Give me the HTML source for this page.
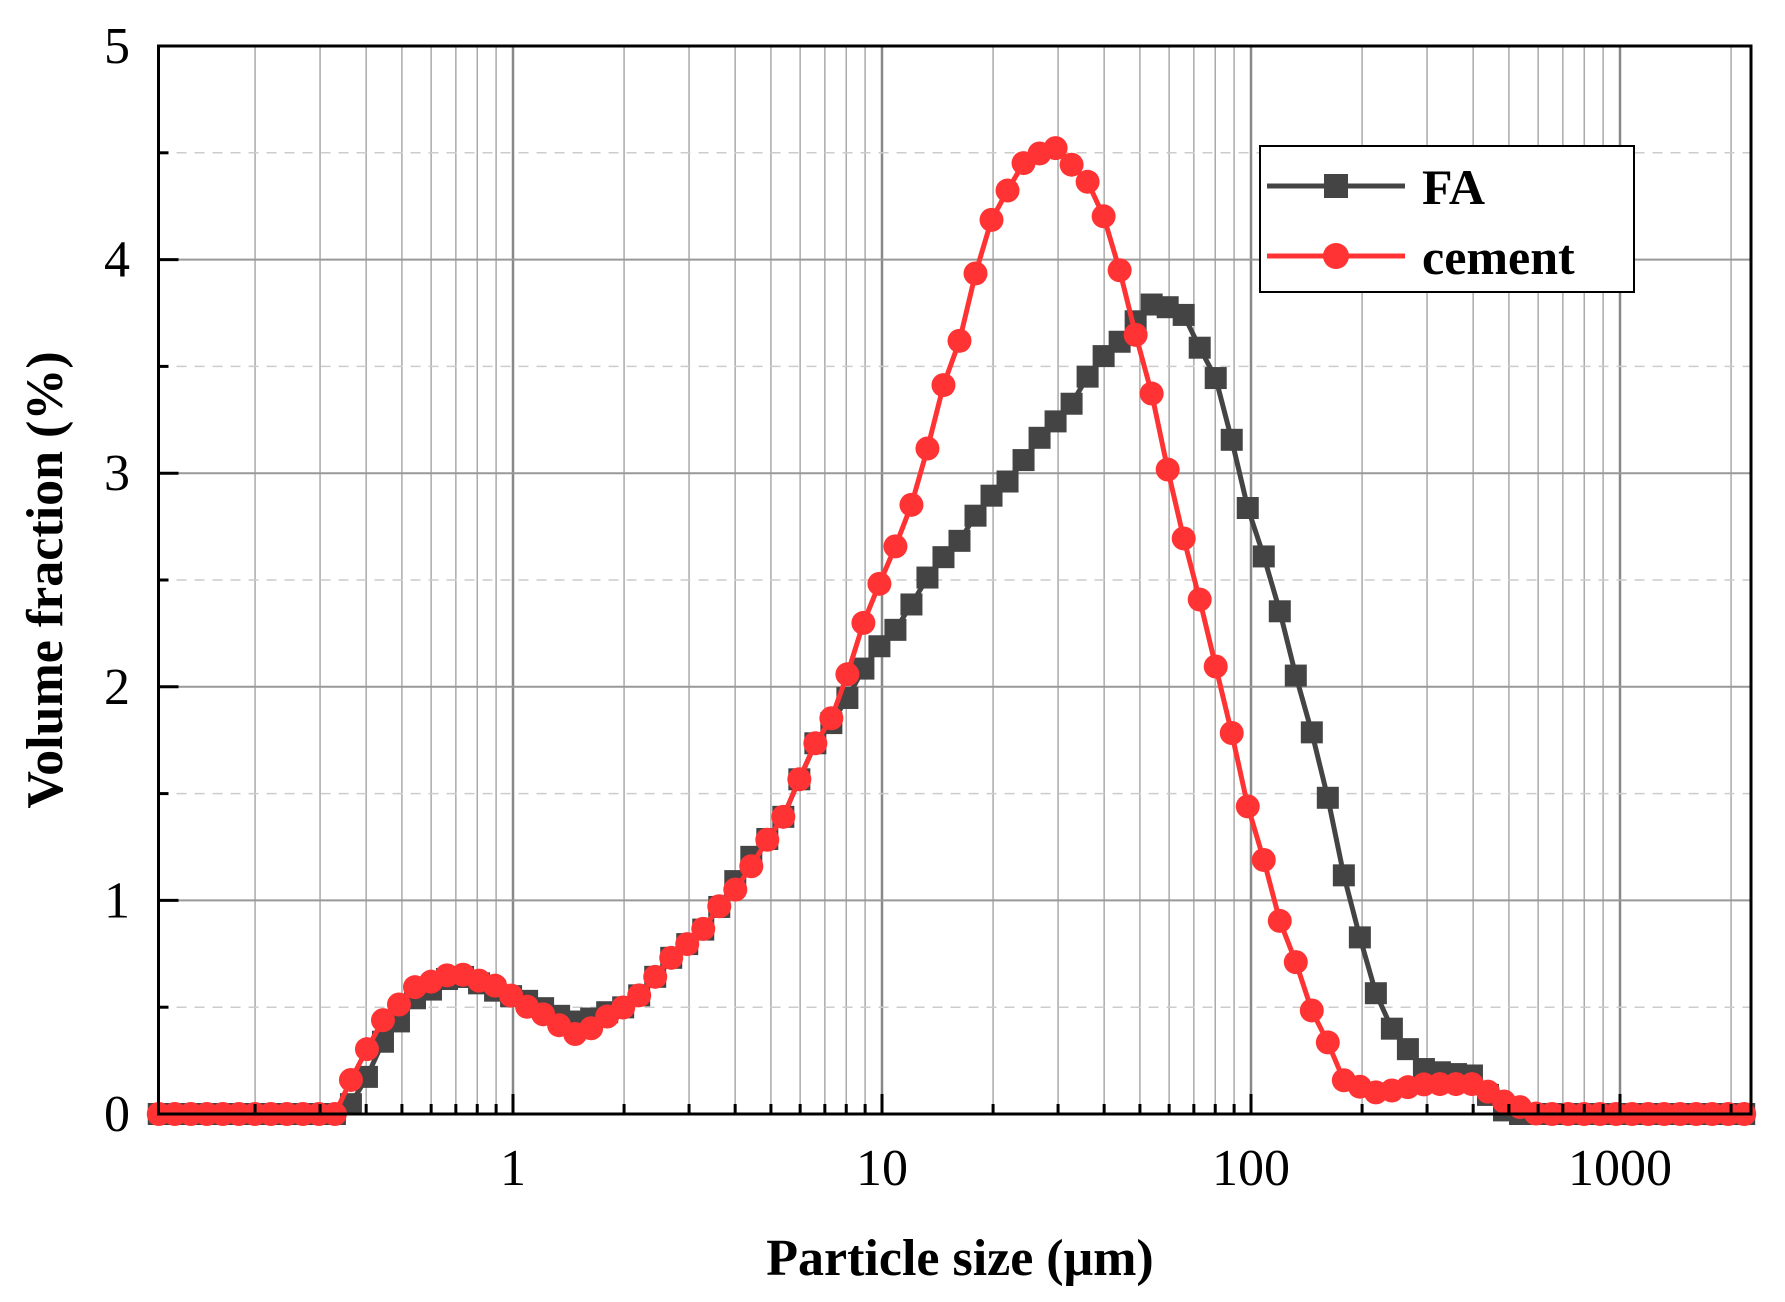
<!DOCTYPE html>
<html><head><meta charset="utf-8"><style>
html,body{margin:0;padding:0;background:#fff;}
svg{display:block;font-family:"Liberation Serif",serif;}
</style></head><body>
<svg id="s" width="1785" height="1302" viewBox="0 0 1785 1302" xmlns="http://www.w3.org/2000/svg">
<rect width="1785" height="1302" fill="#fff"/>
<g id="grid"></g>
<g id="series"></g>
<rect x="158.5" y="46" width="1592.5" height="1068" fill="none" stroke="#000" stroke-width="3"/>
<g id="ticks"></g>
<g font-size="52" fill="#000" id="labels"></g>
<text x="960" y="1275" font-size="52" font-weight="bold" text-anchor="middle">Particle size (μm)</text>
<text transform="translate(62,580) rotate(-90)" font-size="52" font-weight="bold" text-anchor="middle">Volume fraction (%)</text>
<rect x="1260" y="146" width="374" height="146" fill="#fff" stroke="#000" stroke-width="2"/>
<line x1="1267" y1="186" x2="1405" y2="186" stroke="#444" stroke-width="5"/>
<rect x="1324" y="174" width="24" height="24" fill="#444"/>
<text x="1422" y="204" font-size="50" font-weight="bold">FA</text>
<line x1="1267" y1="256" x2="1405" y2="256" stroke="#f33" stroke-width="5"/>
<circle cx="1336" cy="256" r="13" fill="#f33"/>
<text x="1422" y="274" font-size="50" font-weight="bold">cement</text>
</svg>
<script>
const NS="http://www.w3.org/2000/svg";
const L=158.5,R=1751,T=46,B=1114;
const x1=513,dec=369;
const X=v=>x1+Math.log10(v)*dec, Y=v=>B-v*(B-T)/5;
function el(p,t,a){const e=document.createElementNS(NS,t);for(const k in a)e.setAttribute(k,a[k]);p.appendChild(e);return e;}
const g=document.getElementById('grid'),tk=document.getElementById('ticks'),lb=document.getElementById('labels');
for(let d=-1;d<=3;d++)for(let m=1;m<10;m++){const v=m*Math.pow(10,d);const x=X(v);if(x<=L+1||x>=R-1)continue;
 el(g,'line',{x1:x,x2:x,y1:T,y2:B,stroke:m==1?'#888':'#aaa','stroke-width':m==1?2.5:1.5});
 el(tk,'line',{x1:x,x2:x,y1:B,y2:B-(m==1?20:10),stroke:'#000','stroke-width':3});}
for(let i=1;i<10;i++){const y=Y(i*0.5);if(i%2==0){el(g,'line',{x1:L,x2:R,y1:y,y2:y,stroke:'#999','stroke-width':2});}
 else el(g,'line',{x1:L,x2:R,y1:y,y2:y,stroke:'#ccc','stroke-width':1.5,'stroke-dasharray':'10 8'});
 el(tk,'line',{x1:L,x2:L+(i%2==0?20:10),y1:y,y2:y,stroke:'#000','stroke-width':3});}
for(let i=0;i<=5;i++){const t=el(lb,'text',{x:130,y:Y(i)+17,'text-anchor':'end'});t.textContent=i;}
[[1,'1'],[10,'10'],[100,'100'],[1000,'1000']].forEach(([v,s])=>{const t=el(lb,'text',{x:X(v),y:1185,'text-anchor':'middle'});t.textContent=s;});
function interp(pts,v){const lv=Math.log10(v);if(lv<=Math.log10(pts[0][0]))return pts[0][1];
 for(let i=1;i<pts.length;i++){const a=Math.log10(pts[i-1][0]),b=Math.log10(pts[i][0]);if(lv<=b){const t=(lv-a)/(b-a);const s=t*t*(3-2*t);return pts[i-1][1]+(pts[i][1]-pts[i-1][1])*(0.5*t+0.5*s);}}
 return pts[pts.length-1][1];}
const cem=[[0.1,0],[0.33,0],[0.36,0.15],[0.4,0.3],[0.45,0.45],[0.55,0.6],[0.7,0.66],[0.9,0.6],[1.1,0.5],[1.5,0.37],[2,0.5],[3,0.8],[4,1.05],[5,1.3],[7,1.8],[10,2.5],[12,2.85],[15,3.45],[20,4.2],[24,4.45],[29,4.53],[35,4.4],[40,4.2],[50,3.6],[60,3.0],[70,2.5],[80,2.1],[100,1.4],[120,0.9],[150,0.45],[180,0.15],[220,0.1],[300,0.14],[400,0.14],[500,0.05],[600,0],[3000,0]];
const fa=[[0.1,0],[0.35,0],[0.38,0.1],[0.45,0.35],[0.55,0.55],[0.7,0.65],[1,0.55],[1.5,0.43],[2,0.5],[3,0.8],[5,1.3],[7,1.8],[10,2.2],[15,2.62],[20,2.9],[30,3.25],[40,3.55],[55,3.8],[65,3.75],[80,3.45],[100,2.8],[120,2.35],[140,1.9],[160,1.5],[180,1.1],[200,0.8],[220,0.55],[250,0.35],[300,0.2],[400,0.18],[460,0.05],[500,0],[3000,0]];
function draw(pts,col,sq){const sg=document.getElementById('series');let d='';const xs=[];
 for(let lv=-0.96;lv<=3.35;lv+=0.0434){xs.push(Math.pow(10,lv));}
 xs.forEach((v,i)=>{d+=(i?'L':'M')+X(v).toFixed(1)+','+Y(interp(pts,v)).toFixed(1);});
 el(sg,'path',{d:d,fill:'none',stroke:col,'stroke-width':5});
 xs.forEach(v=>{const x=X(v),y=Y(interp(pts,v));if(sq)el(sg,'rect',{x:x-11,y:y-11,width:22,height:22,fill:col});else el(sg,'circle',{cx:x,cy:y,r:12,fill:col});});}
draw(fa,'#444',true);draw(cem,'#f33',false);
</script>
</body></html>
